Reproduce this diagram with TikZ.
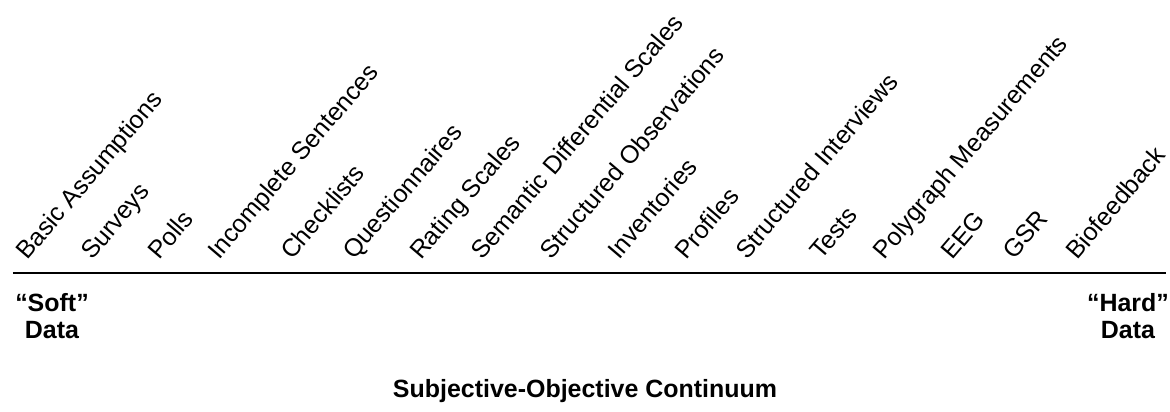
\documentclass[tikz,border=0pt]{standalone}
\usepackage{fontspec}
\setmainfont{Liberation Sans}
\tikzset{
	item/.style={anchor=base west, rotate=49.5, inner sep=0pt, font=\fontsize{14.2}{17}\selectfont},
	endlabel/.style={anchor=base, align=center, inner sep=0pt, font=\fontsize{14.2}{15.4}\selectfont\bfseries}
}
\begin{document}
\begin{tikzpicture}
	\useasboundingbox (0,0) rectangle (23.4,8.24);
	\coordinate (soft end) at (0.26,2.78);
	\coordinate (hard end) at (23.32,2.78);
	\draw[line width=0.7pt] (soft end)--(hard end);
	\foreach \x/\t [count=\i] in {0.54/Basic Assumptions, 1.84/Surveys, 3.18/Polls,
		4.38/Incomplete Sentences, 5.84/Checklists, 7.08/Questionnaires, 8.42/Rating Scales,
		9.64/Semantic Differential Scales, 11.02/Structured Observations, 12.38/Inventories,
		13.72/Profiles, 14.94/Structured Interviews, 16.42/Tests, 17.68/Polygraph Measurements,
		19.04/EEG, 20.28/GSR, 21.54/Biofeedback}
		\node[item] (item\i) at (\x,3.02) {\t};
	\node[endlabel] (soft) at (1.04,1.46) {“Soft”\\Data};
	\node[endlabel] (hard) at (22.56,1.46) {“Hard”\\Data};
	\node[endlabel] (title) at (11.7,0.28) {Subjective-Objective Continuum};
\end{tikzpicture}
\end{document}
